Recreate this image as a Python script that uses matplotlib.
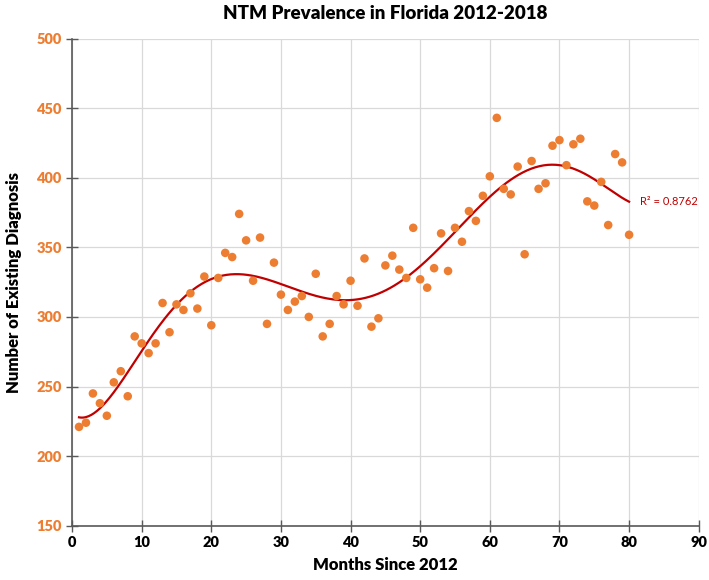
import numpy as np
import matplotlib.pyplot as plt

months = list(range(1, 81))
cases = [221, 224, 245, 238, 229, 253, 261, 243, 286, 281,
         274, 281, 310, 289, 309, 305, 317, 306, 329, 294,
         328, 346, 343, 374, 355, 326, 357, 295, 339, 316,
         305, 311, 315, 300, 331, 286, 295, 315, 309, 326,
         308, 342, 293, 299, 337, 344, 334, 328, 364, 327,
         321, 335, 360, 333, 364, 354, 376, 369, 387, 401,
         443, 392, 388, 408, 345, 412, 392, 396, 423, 427,
         409, 424, 428, 383, 380, 397, 366, 417, 411, 359]
x_ticks = [0, 10, 20, 30, 40, 50, 60, 70, 80, 90]
y_ticks = [150, 200, 250, 300, 350, 400, 450, 500]

plt.rcParams['font.family'] = ['Lato', 'DejaVu Sans']

fig = plt.figure(figsize=(7.09, 5.80), dpi=100)
ax = fig.add_axes([0.1016, 0.0936, 0.8839, 0.84])

x = np.array(months, dtype=float)
y = np.array(cases, dtype=float)

# polynomial trendline like excel
coef = np.polyfit(x, y, 6)
xs = np.linspace(1, 80, 400)
ax.plot(xs, np.polyval(coef, xs), color='#C00000', lw=1.6, zorder=2)
ax.scatter(x, y, s=38, color='#ED7D31', edgecolors='none', zorder=3)

ax.text(81.5, 383, 'R² = 0.8762', color='#C00000', fontsize=8, va='center', ha='left')

ax.set_xlim(0, 90)
ax.set_ylim(150, 500)
ax.set_xticks(x_ticks)
ax.set_yticks(y_ticks)
ax.grid(True, color='#D9D9D9', lw=0.9)
ax.set_axisbelow(True)

for s in ['top', 'right']:
    ax.spines[s].set_visible(False)
for s in ['left', 'bottom']:
    ax.spines[s].set_color('#595959')
    ax.spines[s].set_linewidth(1.2)

ax.tick_params(direction='inout', length=8, width=1, color='#595959')
ax.tick_params(axis='y', labelcolor='#ED7D31')
for lab in ax.get_xticklabels() + ax.get_yticklabels():
    lab.set_fontweight('heavy')
    lab.set_fontsize(10.5)

ax.set_title('NTM Prevalence in Florida 2012-2018', fontsize=13.5, fontweight='heavy', pad=14)
ax.set_xlabel('Months Since 2012', fontsize=12, fontweight='heavy', labelpad=6)
ax.set_ylabel('Number of Existing Diagnosis', fontsize=12, fontweight='heavy', labelpad=10)

fig.savefig('out.png', dpi=100)
